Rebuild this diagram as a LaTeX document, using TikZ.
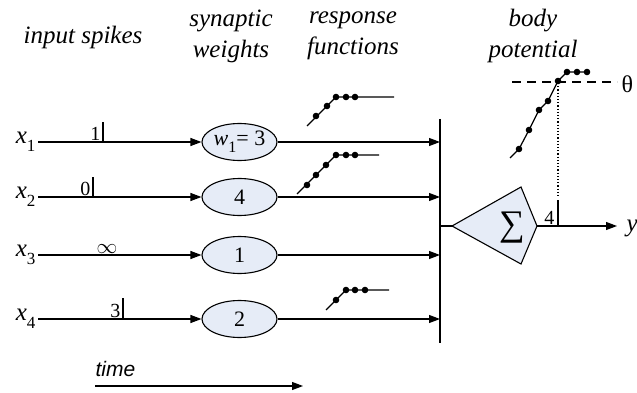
\documentclass[tikz,border=0pt]{standalone}
\usepackage{fontspec}
\setmainfont{Liberation Serif}
\setsansfont{Liberation Sans}
\usetikzlibrary{arrows.meta,shapes.geometric}

\definecolor{wfill}{RGB}{230,236,247}
\newcommand{\xin}[1]{\textit{x}\raisebox{-0.3em}{\fontsize{17}{17}\selectfont #1}}

\begin{document}
\begin{tikzpicture}[x=1pt,y=-1pt,line width=1.1pt,
  tip/.style={-{Triangle[length=11pt,width=8pt]}},
  head/.style={align=center,font=\fontsize{25}{31}\selectfont\itshape},
  weight/.style={draw,ellipse,fill=wfill,minimum width=75pt,minimum height=37pt,inner sep=0pt,
    font=\fontsize{22}{24}\selectfont},
  spike/.style={line width=1.8pt},
  spnum/.style={anchor=base east,inner sep=1pt,font=\fontsize{20}{22}\selectfont},
  resp/.style={line width=1.2pt}]

  \useasboundingbox (0,0) rectangle (637,393);

  % ---------------- headings ----------------
  \node[head] (hin) at (83,37) {input spikes};
  \node[head] (hsyn) at (231,36) {synaptic\\weights};
  \node[head] (hresp) at (353,36) {response\\functions};
  \node[head] (hbody) at (533,36) {body\\potential};

  % ---------------- inputs, weights, summing bar ----------------
  \coordinate (bartop) at (440,119);
  \coordinate (barbot) at (440,343);
  \draw (bartop) -- (barbot);
  \foreach \i/\y/\w in {1/142/{\textit{w}\raisebox{-0.3em}{\fontsize{16}{16}\selectfont 1}= 3},
                        2/197/4, 3/255/1, 4/319/2} {
    \node[font=\fontsize{25}{25}\selectfont, anchor=east, inner sep=2pt] (x\i) at (38,\y) {\xin{\i}};
    \node[weight] (w\i) at (239.5,\y) {\w};
    \coordinate (b\i) at (440,\y);
    \draw[tip] (x\i) -- (w\i);
    \draw[tip] (w\i) -- (b\i);
  }

  % spike times
  \draw[spike] (103,142) -- (103,122);
  \node[spnum] (t1) at (102,140) {1};
  \draw[spike] (93,197) -- (93,177);
  \node[spnum] (t2) at (92,195) {0};
  \node[font=\fontsize{20}{22}\selectfont, anchor=base, inner sep=0pt] (t3) at (107,253) {$\infty$};
  \draw[spike] (123,319) -- (123,298);
  \node[spnum] (t4) at (122,317) {3};

  % response functions
  \draw[resp] (307,126) -- (336,97) -- (394,97);
  \foreach \p in {(316,116),(327,106),(336,97),(346,97),(355,97)}
    \fill \p circle (3.3pt);
  \draw[resp] (297,194) -- (336,155) -- (379,155);
  \foreach \p in {(307,185),(316,175),(326,165),(336,155),(346,155),(355,155)}
    \fill \p circle (3.3pt);
  \draw[resp] (326,310) -- (346,290) -- (389,290);
  \foreach \p in {(336,300),(346,290),(355,290),(365,290)}
    \fill \p circle (3.3pt);

  % ---------------- soma ----------------
  \coordinate (sin) at (452,226);
  \coordinate (sout) at (537,226);
  \draw (440,226) -- (sin);
  \draw[fill=wfill] (sin) -- (521,187) -- (sout) -- (521,264) -- cycle;
  \node[font=\fontsize{36}{36}\selectfont] (sum) at (512,228) {∑};
  \coordinate (yend) at (617,226);
  \draw[tip] (sout) -- (yend);
  \node[font=\fontsize{25}{25}\selectfont\itshape, anchor=west, inner sep=0pt] (yout) at (626,228) {y};
  \draw[spike] (558,226) -- (558,200);
  \node[spnum] (tout) at (556,224) {4};

  % body potential and threshold
  \draw[dash pattern=on 9pt off 6pt] (512,82) -- (617,82);
  \node[font=\fontsize{24}{24}\selectfont, anchor=west, inner sep=0pt] (theta) at (621,84) {θ};
  \draw[dotted, line width=1.2pt] (558,83) -- (558,198);
  \draw[resp] (510,158) -- (519,149) -- (529,130) -- (539,110) -- (548,101) -- (558,81) -- (567,72) -- (587,72);
  \foreach \p in {(519,149),(529,130),(539,110),(548,101),(558,81),(567,72),(577,72),(587,72)}
    \fill \p circle (3.3pt);

  % ---------------- time axis ----------------
  \node[font=\sffamily\itshape\fontsize{21}{24}\selectfont, anchor=base west, inner sep=0pt] (time) at (95,376) {time};
  \coordinate (t0) at (95,386);
  \coordinate (t1end) at (303,386);
  \draw[tip] (t0) -- (t1end);

\end{tikzpicture}
\end{document}
